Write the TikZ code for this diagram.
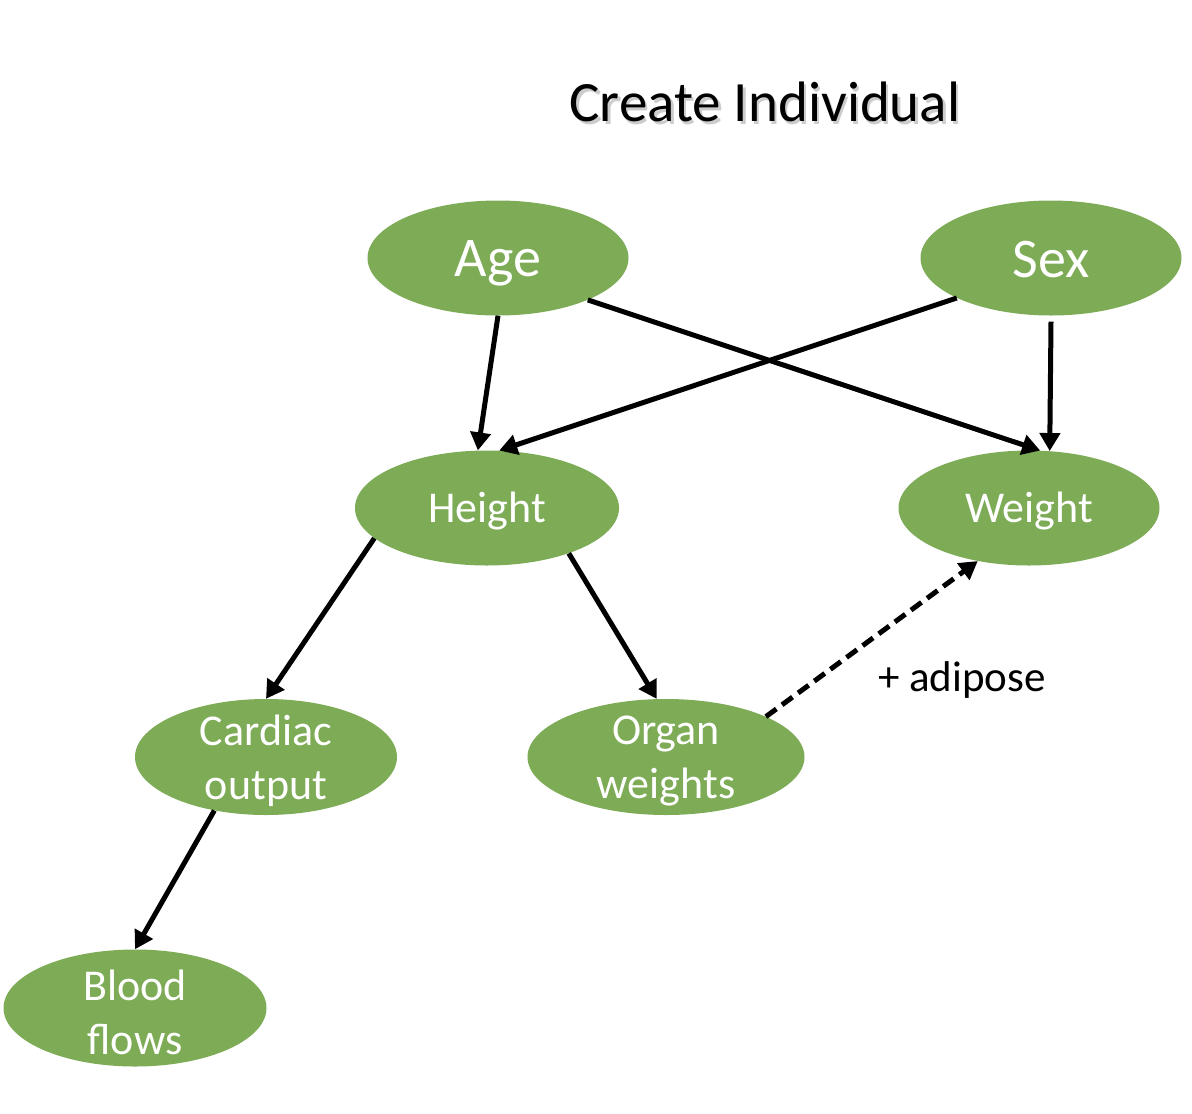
\documentclass[tikz,border=0pt]{standalone}
\usepackage{fontspec}
\setmainfont{Carlito}
\usetikzlibrary{arrows.meta,shapes.geometric}
\definecolor{blobgreen}{RGB}{125,171,86}
\tikzset{
  blob/.style={ellipse, fill=blobgreen, draw=none, inner sep=0pt},
  bigwhite/.style={text=white, font=\fontsize{56}{66}\selectfont},
  midwhite/.style={text=white, align=center, font=\fontsize{44}{54}\selectfont},
  conn/.style={line width=5pt, -{Triangle[length=18pt,width=20pt]}},
  dconn/.style={conn, dash pattern=on 13pt off 7pt},
}
\begin{document}
\begin{tikzpicture}[x=1pt,y=-1pt]
\useasboundingbox (0,0) rectangle (1192,1114);
% title with soft shadow
\node[text=black!40, opacity=0.5, font=\fontsize{57}{68}\selectfont] at (767.5,104.5) {Create Individual};
\node[font=\fontsize{57}{68}\selectfont] (title) at (765,102) {Create Individual};
% ellipses
\node[blob, minimum width=261pt, minimum height=115pt] (age) at (498,258) {};
\node[blob, minimum width=261pt, minimum height=115pt] (sex) at (1051,258) {};
\node[blob, minimum width=264pt, minimum height=115pt] (height) at (487,508) {};
\node[blob, minimum width=261pt, minimum height=115pt] (weight) at (1029,508) {};
\node[blob, minimum width=262pt, minimum height=116pt] (cardiac) at (266,757) {};
\node[blob, minimum width=277pt, minimum height=116pt] (organ) at (666,757) {};
\node[blob, minimum width=263pt, minimum height=117pt] (blood) at (135,1008) {};
% labels
\node[bigwhite] at ([yshift=-5pt]age) {Age};
\node[bigwhite] at ([yshift=-2pt]sex) {Sex};
\node[midwhite] at ([yshift=-3pt]height) {Height};
\node[midwhite] at ([yshift=-3pt]weight) {Weight};
\node[midwhite] at ([yshift=-4pt]cardiac) {Cardiac\\output};
\node[midwhite] at ([yshift=-4pt]organ) {Organ\\weights};
\node[midwhite] at ([yshift=-4pt]blood) {Blood\\flows};
\node[font=\fontsize{43}{50}\selectfont] (adip) at (962,680) {+ adipose};
% connectors
\draw[conn] (age.south) -- (height.99);
\draw[conn] (age.-25) -- (weight.79);
\draw[conn] (sex.-157) -- (height.78);
\draw[conn] ([yshift=-6pt]sex.south) -- (weight.70);
\draw[conn] (height.195) -- (cardiac.north);
\draw[conn] (height.-29) -- (organ.99);
\draw[conn] (cardiac.-134) -- (blood.north);
\draw[dconn] (organ.22) -- (weight.-134);
\end{tikzpicture}
\end{document}
